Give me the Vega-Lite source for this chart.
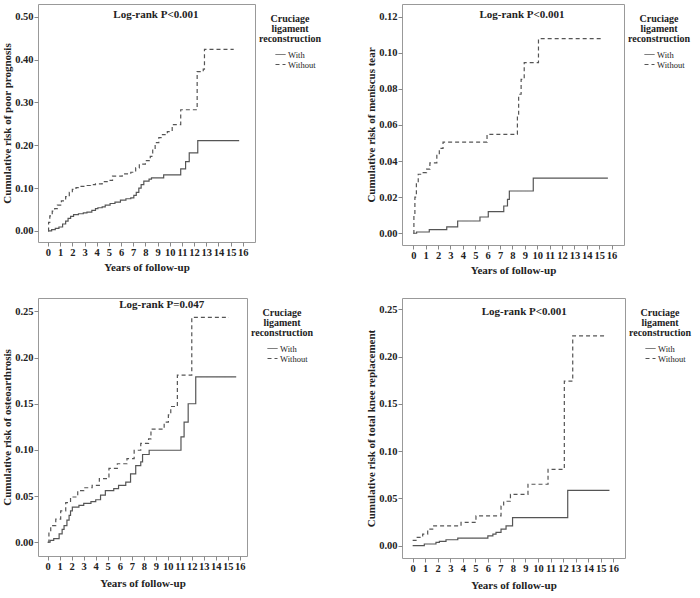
{
  "$schema": "https://vega.github.io/schema/vega-lite/v6.json",
  "padding": {"left": 1, "top": 3, "right": 0, "bottom": 0},
  "background": "white",
  "columns": 2,
  "spacing": {"row": 21, "column": 32},
  "resolve": {"scale": {"strokeDash": "independent", "x": "independent", "y": "independent"}, "legend": {"strokeDash": "independent"}},
  "config": {
    "font": "Liberation Serif",
    "view": {"stroke": "#999", "strokeWidth": 1},
    "axis": {"domain": false, "grid": false, "labelFont": "Liberation Serif", "labelFontWeight": "bold", "labelFontSize": 10.5, "labelColor": "#222", "labelOverlap": false, "titleFont": "Liberation Serif", "titleFontWeight": "bold", "titleFontSize": 11, "titleColor": "#222", "tickColor": "#888", "tickSize": 4, "labelPadding": 1},
    "axisX": {"titlePadding": 4},
    "axisY": {"titlePadding": 2},
    "legend": {"titleFont": "Liberation Serif", "titleFontWeight": "bold", "titleFontSize": 10, "titleColor": "#222", "titleAlign": "center", "titleAnchor": "middle", "titleLineHeight": 10, "labelFont": "Liberation Serif", "labelFontSize": 8.5, "labelColor": "#222", "symbolType": "stroke", "symbolSize": 100, "symbolStrokeWidth": 1, "symbolStrokeColor": "#555", "rowPadding": 0, "padding": 10, "offset": -6, "titlePadding": 5, "symbolOffset": 10, "labelOffset": 2}
  },
  "concat": [
    {
      "width": 217, "height": 238,
      "data": {"values": [
        {"group": "With", "t": 0, "risk": 0}, {"group": "With", "t": 0.3, "risk": 0.003}, {"group": "With", "t": 0.6, "risk": 0.006}, {"group": "With", "t": 0.9, "risk": 0.009}, {"group": "With", "t": 1.2, "risk": 0.016}, {"group": "With", "t": 1.45, "risk": 0.023}, {"group": "With", "t": 1.65, "risk": 0.029}, {"group": "With", "t": 1.86, "risk": 0.034}, {"group": "With", "t": 2.1, "risk": 0.038}, {"group": "With", "t": 2.5, "risk": 0.04}, {"group": "With", "t": 2.9, "risk": 0.042}, {"group": "With", "t": 3.2, "risk": 0.044}, {"group": "With", "t": 3.6, "risk": 0.048}, {"group": "With", "t": 3.9, "risk": 0.052}, {"group": "With", "t": 4.1, "risk": 0.054}, {"group": "With", "t": 4.45, "risk": 0.056}, {"group": "With", "t": 4.7, "risk": 0.06}, {"group": "With", "t": 5.1, "risk": 0.064}, {"group": "With", "t": 5.5, "risk": 0.067}, {"group": "With", "t": 5.95, "risk": 0.072}, {"group": "With", "t": 6.4, "risk": 0.075}, {"group": "With", "t": 6.8, "risk": 0.077}, {"group": "With", "t": 7.05, "risk": 0.083}, {"group": "With", "t": 7.25, "risk": 0.09}, {"group": "With", "t": 7.46, "risk": 0.1}, {"group": "With", "t": 7.65, "risk": 0.108}, {"group": "With", "t": 7.87, "risk": 0.116}, {"group": "With", "t": 8.3, "risk": 0.121}, {"group": "With", "t": 8.5, "risk": 0.124}, {"group": "With", "t": 9.5, "risk": 0.131}, {"group": "With", "t": 10.9, "risk": 0.145}, {"group": "With", "t": 11.3, "risk": 0.162}, {"group": "With", "t": 11.6, "risk": 0.182}, {"group": "With", "t": 12.3, "risk": 0.211}, {"group": "With", "t": 15.7, "risk": 0.211},
        {"group": "Without", "t": 0, "risk": 0}, {"group": "Without", "t": 0.05, "risk": 0.02}, {"group": "Without", "t": 0.15, "risk": 0.035}, {"group": "Without", "t": 0.35, "risk": 0.046}, {"group": "Without", "t": 0.55, "risk": 0.052}, {"group": "Without", "t": 0.77, "risk": 0.06}, {"group": "Without", "t": 1.1, "risk": 0.07}, {"group": "Without", "t": 1.45, "risk": 0.08}, {"group": "Without", "t": 1.75, "risk": 0.09}, {"group": "Without", "t": 2.0, "risk": 0.097}, {"group": "Without", "t": 2.3, "risk": 0.101}, {"group": "Without", "t": 2.6, "risk": 0.104}, {"group": "Without", "t": 3.0, "risk": 0.106}, {"group": "Without", "t": 3.5, "risk": 0.108}, {"group": "Without", "t": 3.9, "risk": 0.11}, {"group": "Without", "t": 4.45, "risk": 0.115}, {"group": "Without", "t": 5.0, "risk": 0.118}, {"group": "Without", "t": 5.3, "risk": 0.128}, {"group": "Without", "t": 6.1, "risk": 0.133}, {"group": "Without", "t": 6.8, "risk": 0.137}, {"group": "Without", "t": 7.2, "risk": 0.147}, {"group": "Without", "t": 7.5, "risk": 0.156}, {"group": "Without", "t": 8.0, "risk": 0.164}, {"group": "Without", "t": 8.4, "risk": 0.174}, {"group": "Without", "t": 8.6, "risk": 0.19}, {"group": "Without", "t": 8.8, "risk": 0.206}, {"group": "Without", "t": 9.1, "risk": 0.218}, {"group": "Without", "t": 9.4, "risk": 0.225}, {"group": "Without", "t": 9.8, "risk": 0.232}, {"group": "Without", "t": 10.2, "risk": 0.248}, {"group": "Without", "t": 10.9, "risk": 0.283}, {"group": "Without", "t": 12.25, "risk": 0.372}, {"group": "Without", "t": 12.75, "risk": 0.378}, {"group": "Without", "t": 12.85, "risk": 0.424}, {"group": "Without", "t": 15.25, "risk": 0.424}
      ]},
      "layer": [
        {"mark": {"type": "line", "interpolate": "step-after", "color": "#555", "strokeWidth": 1.2},
         "encoding": {
           "x": {"field": "t", "type": "quantitative", "scale": {"domain": [-0.82, 17], "nice": false, "zero": false}, "axis": {"values": [0,1,2,3,4,5,6,7,8,9,10,11,12,13,14,15,16], "title": "Years of follow-up"}},
           "y": {"field": "risk", "type": "quantitative", "scale": {"domain": [-0.026, 0.53], "nice": false, "zero": false}, "axis": {"values": [0, 0.1, 0.2, 0.3, 0.4, 0.5], "format": ".2f", "title": "Cumulative risk of poor prognosis"}},
           "strokeDash": {"field": "group", "type": "nominal", "scale": {"domain": ["With", "Without"], "range": [[1, 0], [4, 3]]}, "legend": {"title": ["Cruciage", "ligament", "reconstruction"]}}
         }},
        {"data": {"values": [{}]},
         "mark": {"type": "text", "text": "Log-rank P<0.001", "font": "Liberation Serif", "fontWeight": "bold", "fontSize": 11, "color": "#222", "baseline": "middle"},
         "encoding": {
           "x": {"datum": 8.86, "type": "quantitative", "scale": {"domain": [-0.82, 17], "nice": false, "zero": false}, "axis": {"values": [0,1,2,3,4,5,6,7,8,9,10,11,12,13,14,15,16], "title": "Years of follow-up"}},
           "y": {"datum": 0.504, "type": "quantitative", "scale": {"domain": [-0.026, 0.53], "nice": false, "zero": false}, "axis": {"values": [0, 0.1, 0.2, 0.3, 0.4, 0.5], "format": ".2f", "title": "Cumulative risk of poor prognosis"}}
         }}
      ]
    },
    {
      "width": 222, "height": 241,
      "data": {"values": [
        {"group": "With", "t": 0, "risk": 0}, {"group": "With", "t": 0.27, "risk": 0.0007}, {"group": "With", "t": 1.29, "risk": 0.002}, {"group": "With", "t": 2.7, "risk": 0.0035}, {"group": "With", "t": 3.58, "risk": 0.0068}, {"group": "With", "t": 5.38, "risk": 0.009}, {"group": "With", "t": 6.05, "risk": 0.012}, {"group": "With", "t": 7.3, "risk": 0.0151}, {"group": "With", "t": 7.6, "risk": 0.0188}, {"group": "With", "t": 7.75, "risk": 0.0234}, {"group": "With", "t": 9.68, "risk": 0.0305}, {"group": "With", "t": 15.7, "risk": 0.0305},
        {"group": "Without", "t": 0, "risk": 0}, {"group": "Without", "t": 0.05, "risk": 0.01}, {"group": "Without", "t": 0.13, "risk": 0.02}, {"group": "Without", "t": 0.25, "risk": 0.028}, {"group": "Without", "t": 0.4, "risk": 0.0327}, {"group": "Without", "t": 0.8, "risk": 0.0336}, {"group": "Without", "t": 1.07, "risk": 0.0355}, {"group": "Without", "t": 1.34, "risk": 0.039}, {"group": "Without", "t": 1.9, "risk": 0.0437}, {"group": "Without", "t": 2.1, "risk": 0.047}, {"group": "Without", "t": 2.4, "risk": 0.0505}, {"group": "Without", "t": 5.95, "risk": 0.0548}, {"group": "Without", "t": 8.4, "risk": 0.066}, {"group": "Without", "t": 8.5, "risk": 0.077}, {"group": "Without", "t": 8.7, "risk": 0.0853}, {"group": "Without", "t": 8.95, "risk": 0.0945}, {"group": "Without", "t": 10.1, "risk": 0.1078}, {"group": "Without", "t": 15.2, "risk": 0.1078}
      ]},
      "layer": [
        {"mark": {"type": "line", "interpolate": "step-after", "color": "#555", "strokeWidth": 1.2},
         "encoding": {
           "x": {"field": "t", "type": "quantitative", "scale": {"domain": [-0.91, 17], "nice": false, "zero": false}, "axis": {"values": [0,1,2,3,4,5,6,7,8,9,10,11,12,13,14,15,16], "title": "Years of follow-up"}},
           "y": {"field": "risk", "type": "quantitative", "scale": {"domain": [-0.0065, 0.127], "nice": false, "zero": false}, "axis": {"values": [0, 0.02, 0.04, 0.06, 0.08, 0.1, 0.12], "format": ".2f", "title": "Cumulative risk of meniscus tear"}},
           "strokeDash": {"field": "group", "type": "nominal", "scale": {"domain": ["With", "Without"], "range": [[1, 0], [4, 3]]}, "legend": {"title": ["Cruciage", "ligament", "reconstruction"]}}
         }},
        {"data": {"values": [{}]},
         "mark": {"type": "text", "text": "Log-rank P<0.001", "font": "Liberation Serif", "fontWeight": "bold", "fontSize": 11, "color": "#222", "baseline": "middle"},
         "encoding": {
           "x": {"datum": 8.77, "type": "quantitative", "scale": {"domain": [-0.91, 17], "nice": false, "zero": false}, "axis": {"values": [0,1,2,3,4,5,6,7,8,9,10,11,12,13,14,15,16], "title": "Years of follow-up"}},
           "y": {"datum": 0.1208, "type": "quantitative", "scale": {"domain": [-0.0065, 0.127], "nice": false, "zero": false}, "axis": {"values": [0, 0.02, 0.04, 0.06, 0.08, 0.1, 0.12], "format": ".2f", "title": "Cumulative risk of meniscus tear"}}
         }}
      ]
    },
    {
      "width": 209, "height": 258,
      "data": {"values": [
        {"group": "With", "t": 0, "risk": 0}, {"group": "With", "t": 0.2, "risk": 0.002}, {"group": "With", "t": 0.5, "risk": 0.004}, {"group": "With", "t": 0.95, "risk": 0.009}, {"group": "With", "t": 1.2, "risk": 0.014}, {"group": "With", "t": 1.36, "risk": 0.018}, {"group": "With", "t": 1.6, "risk": 0.024}, {"group": "With", "t": 1.78, "risk": 0.029}, {"group": "With", "t": 1.9, "risk": 0.034}, {"group": "With", "t": 2.05, "risk": 0.038}, {"group": "With", "t": 2.6, "risk": 0.04}, {"group": "With", "t": 3.0, "risk": 0.042}, {"group": "With", "t": 3.6, "risk": 0.044}, {"group": "With", "t": 4.0, "risk": 0.046}, {"group": "With", "t": 4.4, "risk": 0.051}, {"group": "With", "t": 4.8, "risk": 0.056}, {"group": "With", "t": 5.5, "risk": 0.058}, {"group": "With", "t": 5.9, "risk": 0.0616}, {"group": "With", "t": 6.5, "risk": 0.065}, {"group": "With", "t": 6.9, "risk": 0.074}, {"group": "With", "t": 7.33, "risk": 0.083}, {"group": "With", "t": 7.75, "risk": 0.087}, {"group": "With", "t": 7.9, "risk": 0.095}, {"group": "With", "t": 8.45, "risk": 0.0996}, {"group": "With", "t": 11.1, "risk": 0.114}, {"group": "With", "t": 11.36, "risk": 0.13}, {"group": "With", "t": 11.7, "risk": 0.15}, {"group": "With", "t": 12.33, "risk": 0.179}, {"group": "With", "t": 15.7, "risk": 0.179},
        {"group": "Without", "t": 0, "risk": 0}, {"group": "Without", "t": 0.1, "risk": 0.01}, {"group": "Without", "t": 0.25, "risk": 0.018}, {"group": "Without", "t": 0.67, "risk": 0.025}, {"group": "Without", "t": 1.08, "risk": 0.034}, {"group": "Without", "t": 1.5, "risk": 0.043}, {"group": "Without", "t": 1.9, "risk": 0.049}, {"group": "Without", "t": 2.5, "risk": 0.056}, {"group": "Without", "t": 3.0, "risk": 0.059}, {"group": "Without", "t": 3.7, "risk": 0.0616}, {"group": "Without", "t": 4.3, "risk": 0.069}, {"group": "Without", "t": 5.1, "risk": 0.08}, {"group": "Without", "t": 5.8, "risk": 0.085}, {"group": "Without", "t": 6.6, "risk": 0.0906}, {"group": "Without", "t": 7.2, "risk": 0.0996}, {"group": "Without", "t": 7.75, "risk": 0.107}, {"group": "Without", "t": 8.4, "risk": 0.112}, {"group": "Without", "t": 8.6, "risk": 0.1225}, {"group": "Without", "t": 9.7, "risk": 0.13}, {"group": "Without", "t": 10.05, "risk": 0.138}, {"group": "Without", "t": 10.25, "risk": 0.147}, {"group": "Without", "t": 10.8, "risk": 0.181}, {"group": "Without", "t": 12.0, "risk": 0.2435}, {"group": "Without", "t": 15.1, "risk": 0.2435}
      ]},
      "layer": [
        {"mark": {"type": "line", "interpolate": "step-after", "color": "#555", "strokeWidth": 1.2},
         "encoding": {
           "x": {"field": "t", "type": "quantitative", "scale": {"domain": [-0.81, 16.6], "nice": false, "zero": false}, "axis": {"values": [0,1,2,3,4,5,6,7,8,9,10,11,12,13,14,15,16], "title": "Years of follow-up", "titlePadding": 6}},
           "y": {"field": "risk", "type": "quantitative", "scale": {"domain": [-0.0149, 0.2645], "nice": false, "zero": false}, "axis": {"values": [0, 0.05, 0.1, 0.15, 0.2, 0.25], "format": ".2f", "title": "Cumulative risk of osteoarthrosis"}},
           "strokeDash": {"field": "group", "type": "nominal", "scale": {"domain": ["With", "Without"], "range": [[1, 0], [4, 3]]}, "legend": {"title": ["Cruciage", "ligament", "reconstruction"]}}
         }},
        {"data": {"values": [{}]},
         "mark": {"type": "text", "text": "Log-rank P=0.047", "font": "Liberation Serif", "fontWeight": "bold", "fontSize": 11, "color": "#222", "baseline": "middle"},
         "encoding": {
           "x": {"datum": 9.5, "type": "quantitative", "scale": {"domain": [-0.81, 16.6], "nice": false, "zero": false}, "axis": {"values": [0,1,2,3,4,5,6,7,8,9,10,11,12,13,14,15,16], "title": "Years of follow-up", "titlePadding": 6}},
           "y": {"datum": 0.2565, "type": "quantitative", "scale": {"domain": [-0.0149, 0.2645], "nice": false, "zero": false}, "axis": {"values": [0, 0.05, 0.1, 0.15, 0.2, 0.25], "format": ".2f", "title": "Cumulative risk of osteoarthrosis"}}
         }}
      ]
    },
    {
      "width": 223, "height": 260,
      "data": {"values": [
        {"group": "With", "t": 0, "risk": 0}, {"group": "With", "t": 0.93, "risk": 0.0018}, {"group": "With", "t": 1.86, "risk": 0.0035}, {"group": "With", "t": 2.13, "risk": 0.0046}, {"group": "With", "t": 2.66, "risk": 0.0063}, {"group": "With", "t": 3.6, "risk": 0.0081}, {"group": "With", "t": 6.0, "risk": 0.0105}, {"group": "With", "t": 6.4, "risk": 0.0123}, {"group": "With", "t": 6.65, "risk": 0.014}, {"group": "With", "t": 7.05, "risk": 0.0176}, {"group": "With", "t": 7.45, "risk": 0.021}, {"group": "With", "t": 7.97, "risk": 0.0298}, {"group": "With", "t": 12.37, "risk": 0.0586}, {"group": "With", "t": 15.7, "risk": 0.0586},
        {"group": "Without", "t": 0, "risk": 0.0056}, {"group": "Without", "t": 0.27, "risk": 0.0088}, {"group": "Without", "t": 0.8, "risk": 0.0123}, {"group": "Without", "t": 1.2, "risk": 0.0176}, {"group": "Without", "t": 1.6, "risk": 0.021}, {"group": "Without", "t": 3.86, "risk": 0.0246}, {"group": "Without", "t": 5.05, "risk": 0.0316}, {"group": "Without", "t": 7.05, "risk": 0.042}, {"group": "Without", "t": 7.26, "risk": 0.047}, {"group": "Without", "t": 7.8, "risk": 0.0544}, {"group": "Without", "t": 9.2, "risk": 0.065}, {"group": "Without", "t": 10.8, "risk": 0.0808}, {"group": "Without", "t": 12.1, "risk": 0.174}, {"group": "Without", "t": 12.77, "risk": 0.222}, {"group": "Without", "t": 15.3, "risk": 0.222}
      ]},
      "layer": [
        {"mark": {"type": "line", "interpolate": "step-after", "color": "#555", "strokeWidth": 1.2},
         "encoding": {
           "x": {"field": "t", "type": "quantitative", "scale": {"domain": [-0.85, 16.94], "nice": false, "zero": false}, "axis": {"values": [0,1,2,3,4,5,6,7,8,9,10,11,12,13,14,15,16], "title": "Years of follow-up", "titlePadding": 6}},
           "y": {"field": "risk", "type": "quantitative", "scale": {"domain": [-0.013, 0.262], "nice": false, "zero": false}, "axis": {"values": [0, 0.05, 0.1, 0.15, 0.2, 0.25], "format": ".2f", "title": "Cumulative risk of total knee replacement"}},
           "strokeDash": {"field": "group", "type": "nominal", "scale": {"domain": ["With", "Without"], "range": [[1, 0], [4, 3]]}, "legend": {"title": ["Cruciage", "ligament", "reconstruction"]}}
         }},
        {"data": {"values": [{}]},
         "mark": {"type": "text", "text": "Log-rank P<0.001", "font": "Liberation Serif", "fontWeight": "bold", "fontSize": 11, "color": "#222", "baseline": "middle"},
         "encoding": {
           "x": {"datum": 8.9, "type": "quantitative", "scale": {"domain": [-0.85, 16.94], "nice": false, "zero": false}, "axis": {"values": [0,1,2,3,4,5,6,7,8,9,10,11,12,13,14,15,16], "title": "Years of follow-up", "titlePadding": 6}},
           "y": {"datum": 0.2475, "type": "quantitative", "scale": {"domain": [-0.013, 0.262], "nice": false, "zero": false}, "axis": {"values": [0, 0.05, 0.1, 0.15, 0.2, 0.25], "format": ".2f", "title": "Cumulative risk of total knee replacement"}}
         }}
      ]
    }
  ]
}
